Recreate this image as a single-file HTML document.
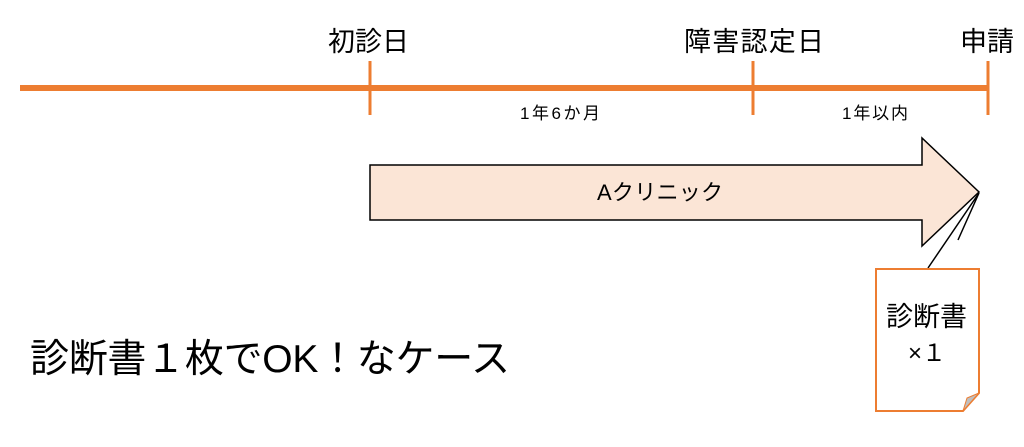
<!DOCTYPE html>
<html><head><meta charset="utf-8"><style>
html,body{margin:0;padding:0;background:#fff;width:1024px;height:447px;overflow:hidden}
svg text{font-family:"Liberation Sans","Noto Sans CJK JP",sans-serif;fill:#000}
</style></head><body>
<svg width="1024" height="447" viewBox="0 0 1024 447">
<line x1="20" y1="88" x2="988" y2="88" stroke="#ED7D31" stroke-width="6"/>
<line x1="370" y1="61" x2="370" y2="115" stroke="#ED7D31" stroke-width="3"/>
<line x1="753" y1="61" x2="753" y2="115" stroke="#ED7D31" stroke-width="3"/>
<line x1="988" y1="61" x2="988" y2="115" stroke="#ED7D31" stroke-width="3"/>
<text x="328" y="51" font-size="27">初診日</text>
<text x="684" y="51" font-size="27" textLength="140">障害認定日</text>
<text x="960" y="51" font-size="27">申請</text>
<text x="520" y="119" font-size="17" textLength="80">1年6か月</text>
<text x="842" y="119" font-size="17" textLength="66">1年以内</text>
<polygon points="370,165 922,165 922,138 979,192 922,246 922,220 370,220" fill="#FBE5D6" stroke="#000" stroke-width="1.5"/>
<text x="597" y="200" font-size="22" textLength="126">Aクリニック</text>
<polyline points="928,268 979,193 958,240" fill="none" stroke="#000" stroke-width="1.5"/>
<path d="M876,269 H979 V393 L963,411 H876 Z" fill="#fff" stroke="#ED7D31" stroke-width="2"/>
<path d="M963,411 L967,398 L979,393 Z" fill="#bfbfbf" stroke="#ED7D31" stroke-width="1"/>
<text x="886" y="326" font-size="27">診断書</text>
<text x="908" y="361" font-size="24">×１</text>
<text x="30" y="372" font-size="39" textLength="480">診断書１枚でOK！なケース</text>
</svg>
</body></html>
